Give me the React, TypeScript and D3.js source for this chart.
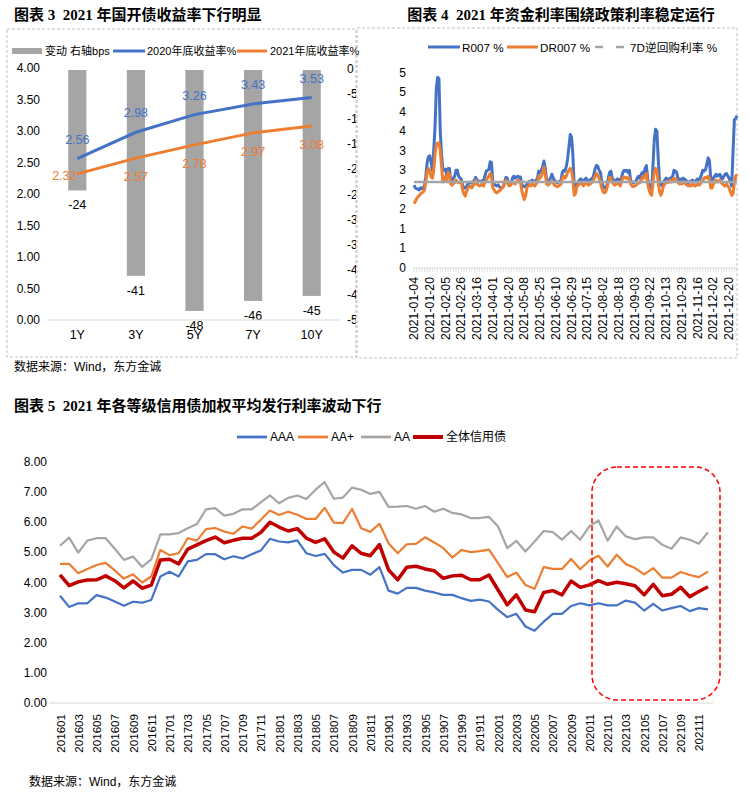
import React from 'react';
import * as d3 from 'd3';

const SANS = '"Liberation Sans", Arial, "Noto Sans CJK SC", sans-serif';
const TITLE = '"Liberation Serif", "Times New Roman", "Noto Sans CJK SC", serif';

// ---- 图表3 data
const tenors = ['1Y', '3Y', '5Y', '7Y', '10Y'];
const yield2020 = [2.56, 2.98, 3.26, 3.43, 3.53];
const yield2021 = [2.32, 2.57, 2.78, 2.97, 3.08];
const changeBps = [-24, -41, -48, -46, -45];
const leftTicks3 = [0, 0.5, 1, 1.5, 2, 2.5, 3, 3.5, 4];
const rightTicks3 = [0, -5, -10, -15, -20, -25, -30, -35, -40, -45, -50];

// ---- 图表4 data (daily, 2021)
const dateTicks = [
  '2021-01-04', '2021-01-20', '2021-02-05', '2021-02-26', '2021-03-16', '2021-04-01', '2021-04-20',
  '2021-05-08', '2021-05-25', '2021-06-10', '2021-06-29', '2021-07-15', '2021-08-02', '2021-08-18',
  '2021-09-03', '2021-09-22', '2021-10-13', '2021-10-29', '2021-11-16', '2021-12-02', '2021-12-20',
];
const yTicks4 = [0, 0.5, 1, 1.5, 2, 2.5, 3, 3.5, 4, 4.5, 5];
const r007 = [
  2.12, 2.05, 2.03, 2.02, 2.0, 2.05, 2.03, 2.06, 2.1, 2.35,
  2.7, 2.85, 2.87, 2.7, 2.5, 3.0, 3.6, 4.6, 4.88, 4.85,
  3.5, 2.9, 2.5, 2.52, 2.53, 2.35, 2.55, 2.55, 2.2, 2.25,
  2.3, 2.35, 2.5, 2.5, 2.35, 2.3, 2.28, 2.12, 2.05, 2.05,
  2.08, 2.15, 2.18, 2.2, 2.17, 2.2, 2.25, 2.32, 2.25, 2.2,
  2.22, 2.2, 2.24, 2.22, 2.35, 2.48, 2.5, 2.52, 2.72, 2.7,
  2.2, 2.15, 2.12, 2.1, 2.13, 2.08, 2.05, 2.05, 2.08, 2.2,
  2.32, 2.3, 2.15, 2.16, 2.15, 2.3, 2.35, 2.3, 2.33, 2.35,
  2.32, 2.33, 2.15, 2.1, 2.08, 2.1, 2.14, 2.18, 2.22, 2.2,
  2.25, 2.2, 2.22, 2.25, 2.3, 2.48, 2.45, 2.5, 2.6, 2.74,
  2.55, 2.25, 2.22, 2.25, 2.3, 2.4, 2.3, 2.25, 2.2, 2.18,
  2.2, 2.22, 2.25, 2.45, 2.5, 2.48, 2.6, 2.8, 3.1, 3.42,
  3.35, 2.9, 2.1, 2.0, 2.15, 2.2, 2.25, 2.28, 2.24, 2.2,
  2.26, 2.3, 2.25, 2.22, 2.25, 2.28, 2.3, 2.4, 2.55, 2.63,
  2.6, 2.5, 2.45, 2.2, 2.1, 2.05, 2.05, 2.12, 2.3, 2.45,
  2.48, 2.3, 2.25, 2.22, 2.25, 2.28, 2.27, 2.2, 2.3, 2.45,
  2.5, 2.48, 2.5, 2.45, 2.5, 2.25, 2.2, 2.18, 2.2, 2.22,
  2.3, 2.35, 2.3, 2.4, 2.45, 2.4, 2.55, 2.62, 2.3, 2.1,
  2.05, 2.0, 2.6, 3.3, 3.55, 3.5, 2.8, 2.2, 2.15, 2.1,
  2.2, 2.25, 2.3, 2.28, 2.25, 2.3, 2.28, 2.35, 2.5, 2.48,
  2.45, 2.3, 2.25, 2.28, 2.25, 2.3, 2.27, 2.25, 2.2, 2.18,
  2.22, 2.2, 2.25, 2.22, 2.2, 2.25, 2.28, 2.25, 2.3, 2.4,
  2.5, 2.48, 2.52, 2.65, 2.82, 2.75, 2.3, 2.25, 2.3, 2.35,
  2.4, 2.35, 2.38, 2.4, 2.3, 2.28, 2.35, 2.4, 2.42, 2.35,
  2.3, 2.2, 2.1, 3.0, 3.8, 3.82, 3.9,
];
const dr007 = [
  1.65, 1.7, 1.78, 1.82, 1.85, 1.9, 1.92, 1.95, 2.0, 2.2,
  2.45, 2.55, 2.5, 2.33, 2.3, 2.5, 2.9, 3.15, 3.2, 3.2,
  3.0, 2.6, 2.2, 2.3, 2.35, 2.25, 2.45, 2.4, 2.15, 2.12,
  2.2, 2.18, 2.25, 2.2, 2.18, 2.2, 2.22, 2.0, 1.9, 1.84,
  1.95, 2.05, 2.08, 2.1, 2.05, 2.1, 2.15, 2.25, 2.15, 2.12,
  2.1, 2.12, 2.15, 2.1, 2.2, 2.25, 2.3, 2.35, 2.42, 2.35,
  2.05, 2.0, 1.95, 1.92, 1.95, 1.98, 2.0, 2.05, 2.1, 2.15,
  2.25, 2.22, 2.12, 2.1, 2.15, 2.2, 2.18, 2.15, 2.2, 2.25,
  2.2, 2.22, 2.0, 1.85, 1.75, 1.85, 2.05, 2.1, 2.12, 2.1,
  2.15, 2.12, 2.1, 2.15, 2.2, 2.35, 2.3, 2.35, 2.45, 2.58,
  2.4, 2.15, 2.12, 2.15, 2.2, 2.22, 2.18, 2.12, 2.1, 2.08,
  2.1, 2.12, 2.15, 2.3, 2.35, 2.3, 2.35, 2.45, 2.5, 2.55,
  2.5, 2.3, 1.86, 1.9, 2.08, 2.12, 2.15, 2.18, 2.15, 2.1,
  2.15, 2.18, 2.15, 2.12, 2.15, 2.18, 2.2, 2.28, 2.35, 2.42,
  2.38, 2.3, 2.2, 2.05, 1.95, 1.92, 1.95, 2.05, 2.2, 2.32,
  2.3, 2.2, 2.15, 2.12, 2.15, 2.18, 2.15, 2.1, 2.2, 2.3,
  2.33, 2.3, 2.32, 2.28, 2.3, 2.15, 2.1, 2.08, 2.1, 2.12,
  2.15, 2.2, 2.18, 2.25, 2.33, 2.3, 2.38, 2.42, 2.15, 2.0,
  1.9, 1.86, 2.2, 2.45, 2.55, 2.5, 2.2, 1.95, 1.86, 1.95,
  2.1, 2.15, 2.2, 2.18, 2.2, 2.25, 2.2, 2.22, 2.3, 2.28,
  2.25, 2.2, 2.15, 2.18, 2.15, 2.2, 2.18, 2.15, 2.12, 2.1,
  2.12, 2.1, 2.15, 2.12, 2.1, 2.12, 2.15, 2.12, 2.15, 2.2,
  2.25, 2.3, 2.32, 2.3, 2.35, 2.3, 2.05, 2.05, 2.15, 2.2,
  2.25, 2.2, 2.22, 2.25, 2.18, 2.15, 2.12, 2.1, 2.15, 2.1,
  2.05, 1.95, 1.86, 1.9, 2.2, 2.35, 2.4,
];
const reverseRepo7D = 2.2;

// ---- 图表5 data (monthly 201601-202112)
const months = d3.range(2016, 2022).flatMap((yr) =>
  d3.range(1, 13).map((m) => `${yr}${String(m).padStart(2, '0')}`)
);
const yTicks5 = [0, 1, 2, 3, 4, 5, 6, 7, 8];
const aaa = [
  3.56, 3.19, 3.31, 3.31, 3.58, 3.5, 3.37, 3.23, 3.36, 3.33,
  3.42, 4.2, 4.36, 4.2, 4.7, 4.75, 4.94, 4.94, 4.77, 4.87,
  4.8, 4.94, 5.06, 5.45, 5.36, 5.33, 5.4, 4.97, 4.88, 4.95,
  4.58, 4.33, 4.42, 4.42, 4.26, 4.51, 3.73, 3.63, 3.82, 3.82,
  3.73, 3.67, 3.59, 3.59, 3.48, 3.39, 3.43, 3.37, 3.09, 2.85,
  2.96, 2.54, 2.4, 2.7, 2.96, 2.96, 3.22, 3.31, 3.24, 3.31,
  3.24, 3.24, 3.4, 3.33, 3.07, 3.29, 3.07, 3.15, 3.22, 3.05,
  3.15, 3.11,
];
const aaPlus = [
  4.62, 4.62, 4.31, 4.45, 4.58, 4.65, 4.4, 4.13, 4.27, 4.0,
  4.2, 5.08, 4.91, 4.97, 5.47, 5.39, 5.77, 5.81, 5.69, 5.62,
  5.86, 5.79, 6.08, 6.39, 6.24, 6.35, 6.25, 6.11, 6.11, 6.48,
  5.99, 5.97, 6.44, 5.8, 5.68, 5.95, 5.3, 4.97, 5.27, 5.28,
  5.5, 5.33, 5.14, 4.83, 5.08, 5.01, 5.04, 5.09, 4.64, 4.18,
  4.33, 3.92, 3.79, 4.51, 4.45, 4.45, 4.78, 4.44, 4.73, 4.89,
  4.53, 4.92, 4.61, 4.48, 4.27, 4.48, 4.16, 4.16, 4.35, 4.25,
  4.18, 4.36,
];
const aa = [
  5.22, 5.49, 4.99, 5.39, 5.47, 5.47, 5.12, 4.75, 4.86, 4.52,
  4.77, 5.6, 5.6, 5.64, 5.8, 5.94, 6.43, 6.47, 6.22, 6.28,
  6.43, 6.43, 6.66, 6.89, 6.63, 6.81, 6.89, 6.77, 7.08, 7.33,
  6.78, 6.82, 7.15, 7.08, 6.94, 7.01, 6.51, 6.52, 6.54, 6.45,
  6.54, 6.35, 6.45, 6.31, 6.26, 6.14, 6.14, 6.18, 5.86, 5.14,
  5.38, 5.03, 5.36, 5.71, 5.67, 5.42, 5.71, 5.42, 5.86, 6.06,
  5.39, 5.86, 5.53, 5.44, 5.5, 5.5, 5.25, 5.12, 5.5, 5.42,
  5.29, 5.67,
];
const allCredit = [
  4.25, 3.9, 4.02, 4.08, 4.09, 4.22, 4.06, 3.82, 4.05, 3.81,
  3.91, 4.75, 4.77, 4.62, 5.11, 5.25, 5.39, 5.51, 5.32, 5.4,
  5.47, 5.47, 5.66, 6.0, 5.84, 5.71, 5.79, 5.47, 5.33, 5.45,
  5.01, 4.81, 5.22, 4.97, 4.89, 5.26, 4.42, 4.09, 4.51, 4.54,
  4.45, 4.39, 4.14, 4.22, 4.24, 4.09, 4.09, 4.25, 3.75, 3.26,
  3.59, 3.09, 3.03, 3.67, 3.73, 3.59, 4.05, 3.84, 3.92, 4.06,
  3.94, 4.01, 3.96, 3.89, 3.59, 3.94, 3.56, 3.61, 3.84, 3.53,
  3.7, 3.86,
];

const BLUE = '#4472C4';
const ORANGE = '#ED7D31';
const GRAY = '#A5A5A5';
const DARKRED = '#C00000';

function Chart3() {
  const x = d3.scaleBand<string>().domain(tenors).range([48, 341]).paddingInner(0.69).paddingOuter(0.345);
  const cx = (t: string) => (x(t) as number) + x.bandwidth() / 2;
  const yL = d3.scaleLinear().domain([0, 4]).range([320, 68]);
  const yR = d3.scaleLinear().domain([-50, 0]).range([321, 70]);
  const line = d3.line<number>().x((_, i) => cx(tenors[i])).y((d) => yL(d));
  const f2 = d3.format('.2f');
  return (
    <g fontFamily={SANS}>
      <text x={14} y={20} fontFamily={TITLE} fontWeight="bold" fontSize={15} style={{ whiteSpace: 'pre' }}>
        {'图表 3  2021 年国开债收益率下行明显'}
      </text>
      <rect x={7} y={29} width={349} height={328} fill="none" stroke="#BFBFBF" strokeDasharray="3,2" />
      {/* legend */}
      <rect x={12} y={48} width={30} height={6} fill={GRAY} />
      <text x={45} y={51} fontSize={11} dominantBaseline="central">变动 右轴bps</text>
      <line x1={113} x2={145} y1={51} y2={51} stroke={BLUE} strokeWidth={3} />
      <text x={147} y={51} fontSize={11} dominantBaseline="central">2020年底收益率%</text>
      <line x1={237} x2={267} y1={51} y2={51} stroke={ORANGE} strokeWidth={3} />
      <text x={270} y={51} fontSize={11} dominantBaseline="central">2021年底收益率%</text>
      {/* left axis */}
      {leftTicks3.map((t) => (
        <text key={t} x={40} y={yL(t)} fontSize={12} textAnchor="end" dominantBaseline="central">{f2(t)}</text>
      ))}
      {/* right axis (clipped by box) */}
      <clipPath id="c3clip"><rect x={0} y={0} width={356} height={360} /></clipPath>
      <g clipPath="url(#c3clip)">
        {rightTicks3.map((t) => (
          <text key={t} x={347} y={yR(t) - 1} fontSize={12} dominantBaseline="central">{t}</text>
        ))}
      </g>
      {/* bars */}
      {changeBps.map((v, i) => (
        <g key={i}>
          <rect x={x(tenors[i])} y={yR(0)} width={x.bandwidth()} height={yR(v) - yR(0)} fill={GRAY} />
          <text x={cx(tenors[i])} y={yR(v) + 15} fontSize={12.5} textAnchor="middle" dominantBaseline="central">{v}</text>
        </g>
      ))}
      <line x1={48} x2={341} y1={320} y2={320} stroke="#D9D9D9" />
      {tenors.map((t) => (
        <text key={t} x={cx(t)} y={335} fontSize={12.5} textAnchor="middle" dominantBaseline="central">{t}</text>
      ))}
      <path d={line(yield2020) as string} fill="none" stroke={BLUE} strokeWidth={3} />
      <path d={line(yield2021) as string} fill="none" stroke={ORANGE} strokeWidth={3} />
      {yield2020.map((v, i) => (
        <text key={i} x={cx(tenors[i])} y={yL(v) - 19} fontSize={12.5} fill={BLUE} textAnchor="middle" dominantBaseline="central">{f2(v)}</text>
      ))}
      {yield2021.map((v, i) => (
        <text key={i} x={cx(tenors[i]) - (i === 0 ? 13 : 0)} y={yL(v) + (i === 0 ? 2 : 19)} fontSize={12.5} fill={ORANGE} textAnchor="middle" dominantBaseline="central">{f2(v)}</text>
      ))}
      <text x={14} y={371} fontSize={12}>数据来源：Wind，东方金诚</text>
    </g>
  );
}

function Chart4() {
  const n = r007.length;
  const x = d3.scaleLinear().domain([0, n - 1]).range([414, 737]);
  const y = d3.scaleLinear().domain([0, 5]).range([268, 72.7]);
  const line = d3.line<number>().x((_, i) => x(i)).y((d) => y(d));
  const f0 = d3.format('.0f');
  const minor = d3.range(0, n, 2);
  return (
    <g fontFamily={SANS}>
      <text x={561} y={20} fontFamily={TITLE} fontWeight="bold" fontSize={15} textAnchor="middle" style={{ whiteSpace: 'pre' }}>
        {'图表 4  2021 年资金利率围绕政策利率稳定运行'}
      </text>
      <rect x={357} y={28} width={380} height={330} fill="none" stroke="#BFBFBF" strokeDasharray="3,2" />
      {/* legend */}
      <line x1={428} x2={460} y1={47} y2={47} stroke={BLUE} strokeWidth={3} />
      <text x={462} y={47} fontSize={11.7} dominantBaseline="central">R007 %</text>
      <line x1={507} x2={538} y1={47} y2={47} stroke={ORANGE} strokeWidth={3} />
      <text x={540} y={47} fontSize={11.7} dominantBaseline="central">DR007 %</text>
      <line x1={595} x2={624} y1={47} y2={47} stroke={GRAY} strokeWidth={2.5} strokeDasharray="8,13" />
      <text x={630} y={47} fontSize={11.7} dominantBaseline="central">7D逆回购利率 %</text>
      {yTicks4.map((t) => (
        <text key={t} x={406} y={y(t)} fontSize={12} textAnchor="end" dominantBaseline="central">{f0(t)}</text>
      ))}
      <line x1={414} x2={737} y1={268} y2={268} stroke="#D9D9D9" />
      {minor.map((i) => (
        <line key={i} x1={x(i)} x2={x(i)} y1={268} y2={272} stroke="#D9D9D9" strokeWidth={0.8} />
      ))}
      {dateTicks.map((t, k) => (
        <text key={t} transform={`translate(${x(k * 12)},277) rotate(-90)`} fontSize={12.3} textAnchor="end" dominantBaseline="central">{t}</text>
      ))}
      <path d={line(r007) as string} fill="none" stroke={BLUE} strokeWidth={3} strokeLinejoin="round" />
      <path d={line(dr007) as string} fill="none" stroke={ORANGE} strokeWidth={3} strokeLinejoin="round" />
      <line x1={x(0)} x2={x(n - 1)} y1={y(reverseRepo7D)} y2={y(reverseRepo7D)} stroke={GRAY} strokeWidth={2.5} />
    </g>
  );
}

function Chart5() {
  const x = d3.scalePoint<string>().domain(months).range([60, 708]);
  const y = d3.scaleLinear().domain([0, 8]).range([703, 462]);
  const line = d3.line<number>().x((_, i) => x(months[i]) as number).y((d) => y(d));
  const f2 = d3.format('.2f');
  const series = [
    { name: 'AAA', data: aaa, color: BLUE, w: 2.2 },
    { name: 'AA+', data: aaPlus, color: ORANGE, w: 2.2 },
    { name: 'AA', data: aa, color: GRAY, w: 2.2 },
    { name: '全体信用债', data: allCredit, color: DARKRED, w: 3.5 },
  ];
  const legendX = [237, 298, 361, 413];
  return (
    <g fontFamily={SANS}>
      <text x={14} y={411} fontFamily={TITLE} fontWeight="bold" fontSize={15} style={{ whiteSpace: 'pre' }}>
        {'图表 5  2021 年各等级信用债加权平均发行利率波动下行'}
      </text>
      {series.map((s, k) => (
        <g key={s.name}>
          <line x1={legendX[k]} x2={legendX[k] + 30} y1={437} y2={437} stroke={s.color} strokeWidth={s.w + 0.5} />
          <text x={legendX[k] + 33} y={437} fontSize={12} dominantBaseline="central">{s.name}</text>
        </g>
      ))}
      {yTicks5.map((t) => (
        <text key={t} x={47} y={y(t)} fontSize={12} textAnchor="end" dominantBaseline="central">{f2(t)}</text>
      ))}
      <line x1={49} x2={713} y1={703} y2={703} stroke="#D9D9D9" />
      {months.filter((_, i) => i % 2 === 0).map((m) => (
        <text key={m} transform={`translate(${x(m)},714) rotate(-90)`} fontSize={11.6} textAnchor="end" dominantBaseline="central">{m}</text>
      ))}
      {series.map((s) => (
        <path key={s.name} d={line(s.data) as string} fill="none" stroke={s.color} strokeWidth={s.w} strokeLinejoin="round" />
      ))}
      <rect x={592} y={467} width={128} height={233} rx={25} ry={25} fill="none" stroke="#FF0000" strokeWidth={1.5} strokeDasharray="5,3" />
      <text x={29} y={786} fontSize={12}>数据来源：Wind，东方金诚</text>
    </g>
  );
}

export default function App() {
  return (
    <svg width={749} height={799} style={{ position: 'absolute', left: 0, top: 0, background: '#fff' }}>
      <Chart3 />
      <Chart4 />
      <Chart5 />
    </svg>
  );
}
